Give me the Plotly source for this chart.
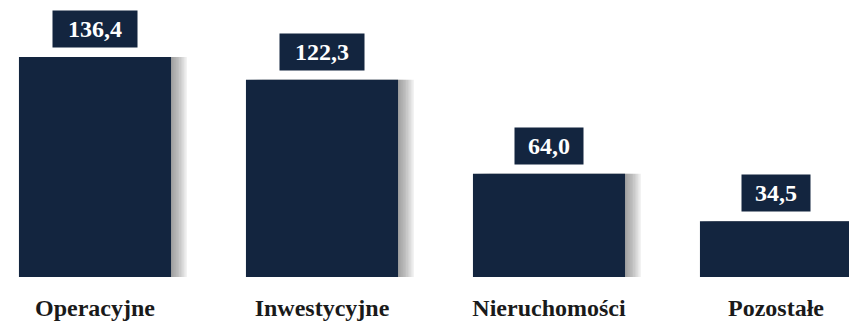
import plotly.graph_objects as go

categories = ["Operacyjne", "Inwestycyjne", "Nieruchomości", "Pozostałe"]
values = [136.4, 122.3, 64.0, 34.5]
value_labels = ["136,4", "122,3", "64,0", "34,5"]

BAR = "#13253f"
W = 0.67
PX = 1 / 227.0
SERIF = "Liberation Serif, Times New Roman, DejaVu Serif, serif"

fig = go.Figure()

# soft shadow to the right of bars
for k in range(1, 11):
    fig.add_trace(go.Bar(
        x=list(range(len(categories))), y=values, width=W,
        offset=-W / 2 + k * 1.6 * PX,
        marker=dict(color="rgba(100,100,100,0.085)", line=dict(width=0)),
        hoverinfo="skip", showlegend=False))

fig.add_trace(go.Bar(
    x=list(range(len(categories))), y=values, width=W, offset=-W / 2,
    marker=dict(color=BAR, line=dict(width=0)), showlegend=False))

for i, (v, lab) in enumerate(zip(values, value_labels)):
    fig.add_annotation(
        x=i, y=v, yanchor="bottom", xanchor="center", yshift=9,
        text="<b>%s</b>" % lab, showarrow=False,
        font=dict(family=SERIF, size=24, color="white"),
        bgcolor=BAR, borderpad=5, width=len(lab) * 16 - 6,
    )

fig.update_layout(
    width=849, height=323,
    margin=dict(l=0, r=0, t=0, b=46),
    barmode="overlay",
    plot_bgcolor="white", paper_bgcolor="white",
    xaxis=dict(range=[-0.4185, 3.3216], tickmode="array",
               tickvals=list(range(len(categories))),
               ticktext=["<b>%s</b>" % c for c in categories],
               tickfont=dict(family=SERIF, size=24, color="#1a1a1a"),
               showgrid=False, zeroline=False, showline=False,
               ticks="", ticklabelstandoff=14),
    yaxis=dict(range=[0, 171.7], visible=False, showgrid=False, zeroline=False),
)

fig.write_html("out.html")
